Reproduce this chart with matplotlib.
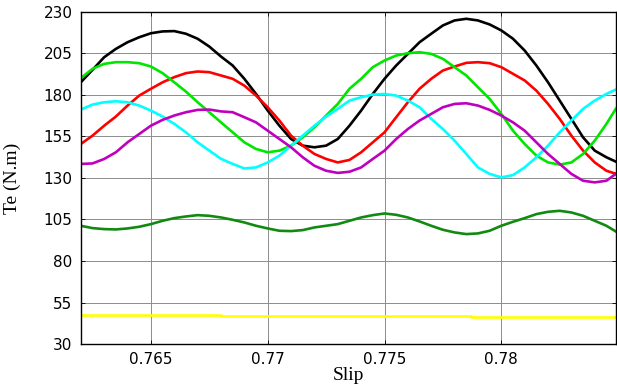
import matplotlib
matplotlib.use('Agg')
import matplotlib.pyplot as plt

# slip samples
slip = [0.762, 0.7625, 0.763, 0.7635, 0.764, 0.7645, 0.765, 0.7655, 0.766, 0.7665,
        0.767, 0.7675, 0.768, 0.7685, 0.769, 0.7695, 0.770, 0.7705, 0.771, 0.7715,
        0.772, 0.7725, 0.773, 0.7735, 0.774, 0.7745, 0.775, 0.7755, 0.776, 0.7765,
        0.777, 0.7775, 0.778, 0.7785, 0.779, 0.7795, 0.780, 0.7805, 0.781, 0.7815,
        0.782, 0.7825, 0.783, 0.7835, 0.784, 0.7845, 0.7849]

# electromagnetic torque for each case (N.m)
te_black = [187.5, 195.0, 202.6, 207.6, 211.6, 214.6, 217.0, 218.1, 218.3, 216.7,
            213.7, 209.0, 203.0, 197.6, 189.6, 180.5, 170.5, 161.4, 153.4, 149.4,
            148.4, 149.4, 153.4, 161.4, 170.5, 180.5, 189.6, 197.6, 204.6, 211.6,
            216.7, 221.7, 224.7, 225.7, 224.7, 222.3, 218.7, 213.7, 206.6, 197.6,
            187.5, 176.5, 165.5, 154.4, 146.4, 142.4, 139.8]
te_red = [150.4, 155.4, 161.4, 166.9, 173.5, 179.5, 183.6, 187.5, 190.6, 193.0,
          194.0, 193.6, 191.6, 189.6, 185.5, 179.5, 172.5, 164.5, 155.4, 149.4,
          144.4, 141.4, 139.3, 140.8, 145.4, 151.4, 157.4, 166.5, 175.5, 183.6,
          189.6, 194.6, 197.0, 199.2, 199.6, 199.0, 196.6, 192.6, 188.6, 182.5,
          174.5, 165.5, 155.4, 146.4, 139.3, 134.3, 132.5]
te_green = [190.0, 195.6, 198.6, 199.6, 199.6, 199.0, 197.0, 193.0, 187.5, 181.9,
            175.5, 169.5, 163.4, 157.4, 151.4, 147.4, 145.4, 146.4, 149.4, 154.4,
            160.4, 167.5, 174.5, 183.6, 189.6, 196.6, 200.6, 203.6, 205.0, 205.6,
            204.6, 201.6, 196.6, 191.6, 184.5, 177.5, 168.5, 158.4, 150.4, 143.4,
            139.3, 138.0, 139.3, 144.4, 152.4, 162.5, 171.5]
te_cyan = [171.1, 174.1, 175.5, 176.1, 175.5, 173.5, 170.5, 166.9, 162.5, 157.4,
           151.4, 146.4, 141.5, 138.4, 135.7, 136.3, 139.3, 143.4, 149.4, 155.4,
           161.4, 166.9, 171.5, 176.5, 178.5, 180.1, 180.5, 179.5, 176.5, 172.5,
           165.5, 159.4, 152.4, 144.4, 136.3, 132.4, 130.3, 131.7, 136.3, 142.4,
           149.4, 157.4, 164.5, 171.5, 176.5, 180.5, 183.1]
te_magenta = [138.4, 138.7, 141.4, 145.4, 151.4, 156.4, 161.4, 164.9, 167.5, 169.5,
              170.9, 171.1, 170.0, 169.5, 166.5, 163.4, 158.4, 153.4, 148.4, 142.4,
              137.3, 134.3, 133.0, 133.7, 136.3, 141.4, 146.4, 153.4, 159.4, 164.5,
              168.5, 172.5, 174.5, 174.9, 173.5, 170.9, 167.5, 163.4, 158.4, 151.4,
              144.4, 138.4, 132.4, 128.3, 127.3, 128.3, 132.4]
te_dkgreen = [101.2, 99.8, 99.2, 99.0, 99.6, 100.6, 102.2, 104.2, 105.8, 106.8,
              107.6, 107.2, 106.2, 104.8, 103.2, 101.2, 99.6, 98.2, 98.0, 98.6,
              100.2, 101.2, 102.2, 104.2, 106.2, 107.6, 108.6, 107.8, 106.2, 103.8,
              101.2, 98.8, 97.2, 96.2, 96.6, 98.2, 101.2, 103.6, 105.8, 108.2,
              109.6, 110.2, 109.2, 107.2, 104.2, 101.2, 97.8]

# low load case, nearly constant
slip_yellow = [0.762, 0.768, 0.7787, 0.7849]
te_yellow = [47.6, 46.9, 46.3, 46.3]

xticks = [0.765, 0.77, 0.775, 0.78]
xtick_labels = ['0.765', '0.77', '0.775', '0.78']
yticks = [30, 55, 80, 105, 130, 155, 180, 205, 230]

fig = plt.figure(figsize=(6.17, 3.88), dpi=100)
ax = fig.add_axes([0.131, 0.113, 0.867, 0.857])

lw = 1.9
ax.plot(slip, te_black, color='black', lw=lw)
ax.plot(slip, te_red, color='#ff0000', lw=lw)
ax.plot(slip, te_green, color='#00e600', lw=lw)
ax.plot(slip, te_cyan, color='#00ffff', lw=lw)
ax.plot(slip, te_magenta, color='#bf00bf', lw=lw)
ax.plot(slip, te_dkgreen, color='#128a12', lw=lw)
ax.plot(slip_yellow, te_yellow, color='#ffff00', lw=lw, drawstyle='steps-post')

ax.set_xlim(0.762, 0.7849)
ax.set_ylim(30, 230)
ax.set_xticks(xticks)
ax.set_xticklabels(xtick_labels)
ax.set_yticks(yticks)

ax.grid(True, color='0.55', linestyle='-', linewidth=0.7)
ax.tick_params(direction='in', top=True, right=True, length=3, width=0.6,
               labelsize=11, pad=6)
for lab in ax.get_xticklabels() + ax.get_yticklabels():
    lab.set_family('DejaVu Sans')
for sp in ax.spines.values():
    sp.set_linewidth(1.0)

ax.set_xlabel('Slip', family='Liberation Serif', fontsize=14, labelpad=0)
ax.set_ylabel('Te (N.m)', family='Liberation Serif', fontsize=14, labelpad=16)

fig.savefig('out.png', dpi=100)
